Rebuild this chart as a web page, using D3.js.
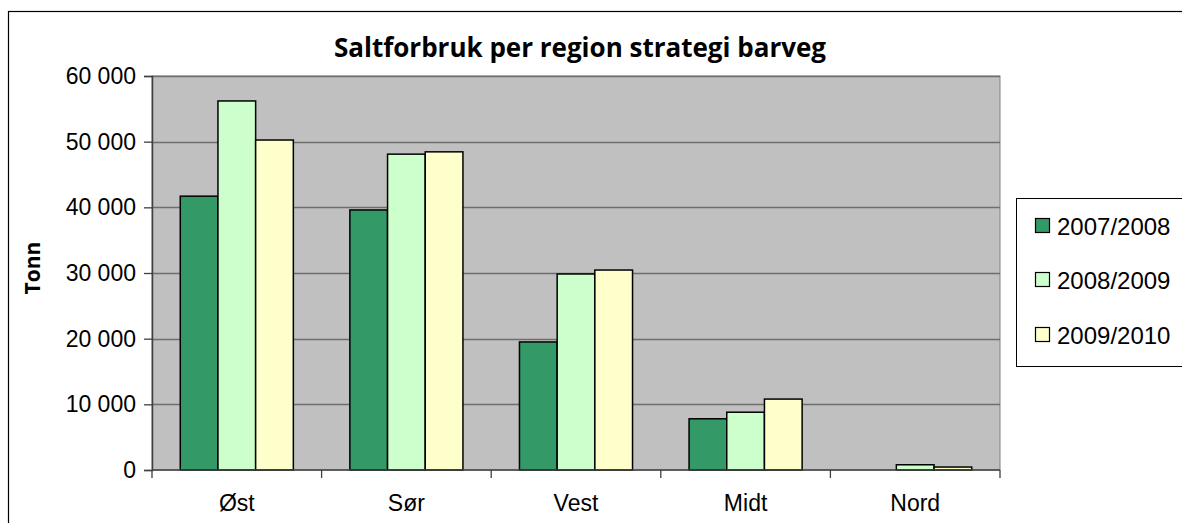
<!DOCTYPE html>
<html>
<head>
<meta charset="utf-8">
<script src="https://cdn.jsdelivr.net/npm/d3@7"></script>
<style>
  body { margin: 0; background: #fff; }
  text { font-family: "Liberation Sans", Arial, sans-serif; }
</style>
</head>
<body>
<div id="chart"></div>
<script>
// data
const regions = ['Øst', 'Sør', 'Vest', 'Midt', 'Nord'];
const seasons = ['2007/2008', '2008/2009', '2009/2010'];
const s2007 = [41700, 39600, 19500, 7800, 0];
const s2008 = [56200, 48100, 29850, 8800, 800];
const s2009 = [50250, 48450, 30450, 10800, 450];
const yTicks = [0, 10000, 20000, 30000, 40000, 50000, 60000];
const colors = ['#339966', '#ccffcc', '#ffffcc'];

const seriesValues = [s2007, s2008, s2009];

const W = 1182, H = 523;
const plot = { left: 152, right: 1000, top: 76, bottom: 470 };

const svg = d3.select('#chart').append('svg')
    .attr('width', W)
    .attr('height', H);

// 图表外框
svg.append('rect')
    .attr('x', 8.5).attr('y', 11.5)
    .attr('width', W + 20).attr('height', H + 20)
    .attr('fill', '#fff')
    .attr('stroke', '#000')
    .attr('stroke-width', 1.2);

const x = d3.scaleBand()
    .domain(regions)
    .range([plot.left, plot.right])
    .paddingInner(0)
    .paddingOuter(0);

const xInner = d3.scaleBand()
    .domain(seasons)
    .range([0, x.bandwidth()])
    .paddingInner(0)
    .paddingOuter(0.75);

const y = d3.scaleLinear()
    .domain([0, 60000])
    .range([plot.bottom, plot.top]);

// 绘图区背景
svg.append('rect')
    .attr('x', plot.left).attr('y', plot.top)
    .attr('width', plot.right - plot.left)
    .attr('height', plot.bottom - plot.top)
    .attr('fill', '#c0c0c0')
    .attr('stroke', '#808080')
    .attr('stroke-width', 1);

// 网格线
svg.append('g')
    .selectAll('line')
    .data(yTicks.filter(d => d > 0))
    .join('line')
    .attr('x1', plot.left).attr('x2', plot.right)
    .attr('y1', d => Math.round(y(d)) + 0.5)
    .attr('y2', d => Math.round(y(d)) + 0.5)
    .attr('stroke', '#6e6e6e')
    .attr('stroke-width', 1.3);

// 柱子
const groups = svg.append('g')
    .selectAll('g')
    .data(regions)
    .join('g')
    .attr('transform', d => `translate(${x(d)},0)`);

groups.selectAll('rect')
    .data((d, i) => seasons.map((s, j) => ({ s, v: seriesValues[j][i], c: colors[j] })))
    .join('rect')
    .filter(d => d.v > 0)
    .attr('x', d => xInner(d.s))
    .attr('y', d => y(d.v))
    .attr('width', xInner.bandwidth())
    .attr('height', d => plot.bottom - y(d.v))
    .attr('fill', d => d.c)
    .attr('stroke', '#000')
    .attr('stroke-width', 1.5);

// y 轴
const yAxis = svg.append('g')
    .attr('transform', `translate(${plot.left},0)`)
    .call(d3.axisLeft(y)
        .tickValues(yTicks)
        .tickSize(8)
        .tickPadding(8)
        .tickFormat(d => d3.format(',')(d).replace(/,/g, ' ')));
yAxis.select('.domain').attr('stroke', '#404040').attr('stroke-width', 1.5);
yAxis.selectAll('.tick line').attr('stroke', '#404040').attr('stroke-width', 1.3);
yAxis.selectAll('.tick text')
    .attr('font-size', '23px')
    .attr('fill', '#000');

// x 轴
const xAxisG = svg.append('g');
xAxisG.append('line')
    .attr('x1', plot.left).attr('x2', plot.right)
    .attr('y1', plot.bottom).attr('y2', plot.bottom)
    .attr('stroke', '#404040').attr('stroke-width', 1.5);
xAxisG.selectAll('.xtick')
    .data(regions.map(r => x(r)).concat([plot.right]))
    .join('line')
    .attr('class', 'xtick')
    .attr('x1', d => d).attr('x2', d => d)
    .attr('y1', plot.bottom).attr('y2', plot.bottom + 8)
    .attr('stroke', '#404040').attr('stroke-width', 1.3);
xAxisG.selectAll('text')
    .data(regions)
    .join('text')
    .attr('x', d => x(d) + x.bandwidth() / 2)
    .attr('y', 511)
    .attr('text-anchor', 'middle')
    .attr('font-size', '23px')
    .attr('fill', '#000')
    .text(d => d);

// 标题
svg.append('text')
    .attr('x', 580)
    .attr('y', 57)
    .attr('text-anchor', 'middle')
    .attr('font-size', '26px')
    .attr('font-weight', 'bold')
    .style('font-family', '"Open Sans", "Noto Sans", sans-serif')
    .text('Saltforbruk per region strategi barveg');

// y 轴标题
svg.append('text')
    .attr('transform', 'translate(40,268) rotate(-90)')
    .attr('text-anchor', 'middle')
    .attr('font-size', '21px')
    .attr('font-weight', 'bold')
    .style('font-family', '"Open Sans", "Noto Sans", sans-serif')
    .text('Tonn');

// 图例
const legend = svg.append('g');
legend.append('rect')
    .attr('x', 1016.5).attr('y', 198.5)
    .attr('width', 200).attr('height', 168)
    .attr('fill', '#fff')
    .attr('stroke', '#000')
    .attr('stroke-width', 1);
const legendRows = [226, 280, 335];
seasons.forEach((s, i) => {
    legend.append('rect')
        .attr('x', 1035.5).attr('y', legendRows[i] - 7.5)
        .attr('width', 14).attr('height', 14)
        .attr('fill', colors[i])
        .attr('stroke', '#000')
        .attr('stroke-width', 1.2);
    legend.append('text')
        .attr('x', 1057)
        .attr('y', legendRows[i] + 8.5)
        .attr('font-size', '24px')
        .attr('fill', '#000')
        .text(s);
});
</script>
</body>
</html>
